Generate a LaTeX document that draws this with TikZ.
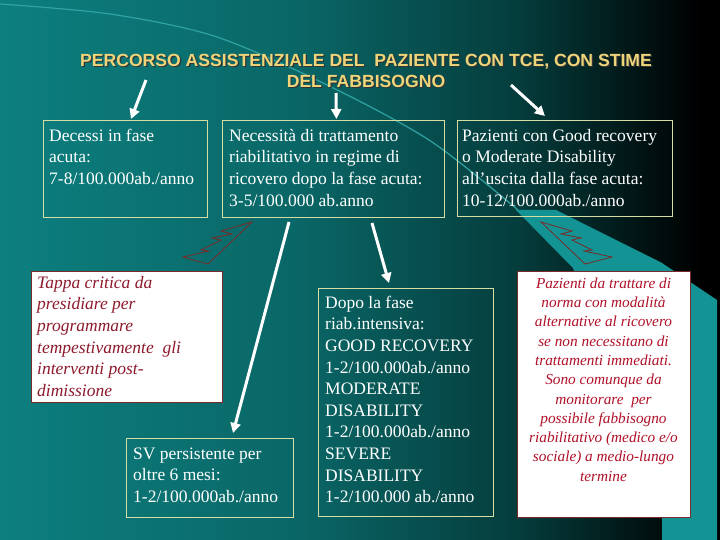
\documentclass[tikz,border=0pt]{standalone}
\usepackage{fontspec}
\setmainfont{Liberation Serif}
\newfontfamily\titlefont{Liberation Sans}
\usetikzlibrary{arrows.meta,calc}
\definecolor{bgA}{HTML}{0D7F7F}
\definecolor{bgB}{HTML}{0A6666}
\definecolor{bgC}{HTML}{053C3C}
\definecolor{arccol}{HTML}{2FA3A3}
\definecolor{tealhi}{HTML}{139393}
\definecolor{boxline}{HTML}{D6DDA4}
\definecolor{redline}{HTML}{7A2A2A}
\definecolor{redtext}{HTML}{8E1A2C}
\definecolor{crimson}{HTML}{B01028}
\definecolor{gold}{HTML}{EFD57A}
\begin{document}
\begin{tikzpicture}[x=1pt,y=-1pt,
  box/.style={draw=boxline,line width=0.8pt,anchor=north west,inner sep=0pt},
  wbox/.style={draw=redline,fill=white,line width=1.4pt,anchor=north west,inner sep=0pt},
  txt/.style={text=white,align=left,inner sep=0pt,anchor=north west,font=\fontsize{17.5}{21.6}\selectfont},
  itxt/.style={text=redtext,align=left,inner sep=0pt,anchor=north west,font=\itshape\fontsize{17.5}{21.6}\selectfont},
  ctxt/.style={text=crimson,align=center,inner sep=0pt,anchor=north,font=\itshape\fontsize{15.3}{19.3}\selectfont},
  ttl/.style={font=\titlefont\bfseries\fontsize{17.6}{21}\selectfont,align=center,anchor=north,inner sep=0pt},
  warrow/.style={draw=white,line width=3pt,-{Triangle[length=10pt,width=10pt]}},
  bolt/.style={draw=redline,line width=0.8pt}]
\useasboundingbox (0,0) rectangle (720,540);
% background
\shade[left color=bgA,right color=bgB] (0,0) rectangle (300.5,540);
\shade[left color=bgB,right color=bgC] (300,0) rectangle (520.5,540);
\shade[left color=bgC,right color=black] (520,0) rectangle (700.5,540);
\fill[black] (700,0) rectangle (720,540);
% decorative arc and teal beam
\fill[tealhi] (516,210) -- (556,210) -- (662,263) -- (717,300) -- (717,540) -- (662,540) -- (662,510) -- (573,268) -- cycle;
\draw[arccol,line width=1.2pt] plot[smooth] coordinates {(0,4) (110,14) (214,36) (321,82) (429,140) (518,210)};
% title
\node[ttl,text=black!80] at (367.2,52.5) {\strut PERCORSO ASSISTENZIALE DEL\ \ PAZIENTE CON TCE, CON STIME\\DEL FABBISOGNO};
\node (title) [ttl,text=gold] at (366,51.3) {\strut PERCORSO ASSISTENZIALE DEL\ \ PAZIENTE CON TCE, CON STIME\\DEL FABBISOGNO};
% top boxes
\node[box,minimum width=164pt,minimum height=97pt] (b1) at (43,120) {};
\node[txt] (t1) at (49,125.9) {\strut Decessi in fase\\acuta:\\7-8/100.000ab./anno};
\node[box,minimum width=222pt,minimum height=97pt] (b2) at (222,120) {};
\node[txt] (t2) at (229,125.9) {\strut Necessità di trattamento\\riabilitativo in regime di\\ricovero dopo la fase acuta:\\3-5/100.000 ab.anno};
\node[box,minimum width=215pt,minimum height=96pt] (b3) at (457,120) {};
\node[txt] (t3) at (462,125.9) {\strut Pazienti con Good recovery\\o Moderate Disability\\all’uscita dalla fase acuta:\\10-12/100.000ab./anno};
% lower boxes
\node[wbox,minimum width=191pt,minimum height=131pt] (b4) at (31,271) {};
\node[itxt] (t4) at (37,272.9) {\strut Tappa critica da\\presidiare per\\programmare\\tempestivamente\ \ gli\\interventi post-\\dimissione};
\node[box,minimum width=167pt,minimum height=79pt] (b5) at (126,438) {};
\node[txt] (t5) at (133,443.9) {\strut SV persistente per\\oltre 6 mesi:\\1-2/100.000ab./anno};
\node[box,minimum width=175pt,minimum height=228pt] (b6) at (318,288) {};
\node[txt] (t6) at (325,292.9) {\strut Dopo la fase\\riab.intensiva:\\GOOD RECOVERY\\1-2/100.000ab./anno\\MODERATE\\DISABILITY\\1-2/100.000ab./anno\\SEVERE\\DISABILITY\\1-2/100.000 ab./anno};
\node[wbox,minimum width=173pt,minimum height=246pt] (b7) at (517,271) {};
\node[ctxt] (t7) at (603.5,274.5) {\strut Pazienti da trattare di\\norma con modalità\\alternative al ricovero\\se non necessitano di\\trattamenti immediati.\\Sono comunque da\\monitorare\ \ per\\possibile fabbisogno\\riabilitativo (medico e/o\\sociale) a medio-lungo\\termine};
% lightning bolts
\draw[bolt] (541,222) -- (572,231) -- (561,234) -- (581,238) -- (572,240) -- (592,250) -- (584,251) -- (612,257) -- (585,264) -- cycle;
\draw[bolt] (252,222) -- (221,231) -- (232,234) -- (212,238) -- (221,240) -- (201,250) -- (209,251) -- (183,257) -- (208,264) -- cycle;
% arrows
\coordinate (a1) at (146,80);
\coordinate (a2) at (336,93);
\coordinate (a3) at (511,85);
\coordinate (a4) at (289,222);
\coordinate (a5) at (372,223);
\draw[warrow] (a1) -- ($(b1.north west)+(88,-1)$);
\draw[warrow] (a2) -- ($(b2.north)+(3,-1)$);
\draw[warrow] (a3) -- ($(b3.north west)+(88,-4)$);
\draw[warrow] (a4) -- ($(b5.north west)+(107,-5)$);
\draw[warrow] (a5) -- ($(b6.north west)+(71,-5)$);
\end{tikzpicture}
\end{document}
